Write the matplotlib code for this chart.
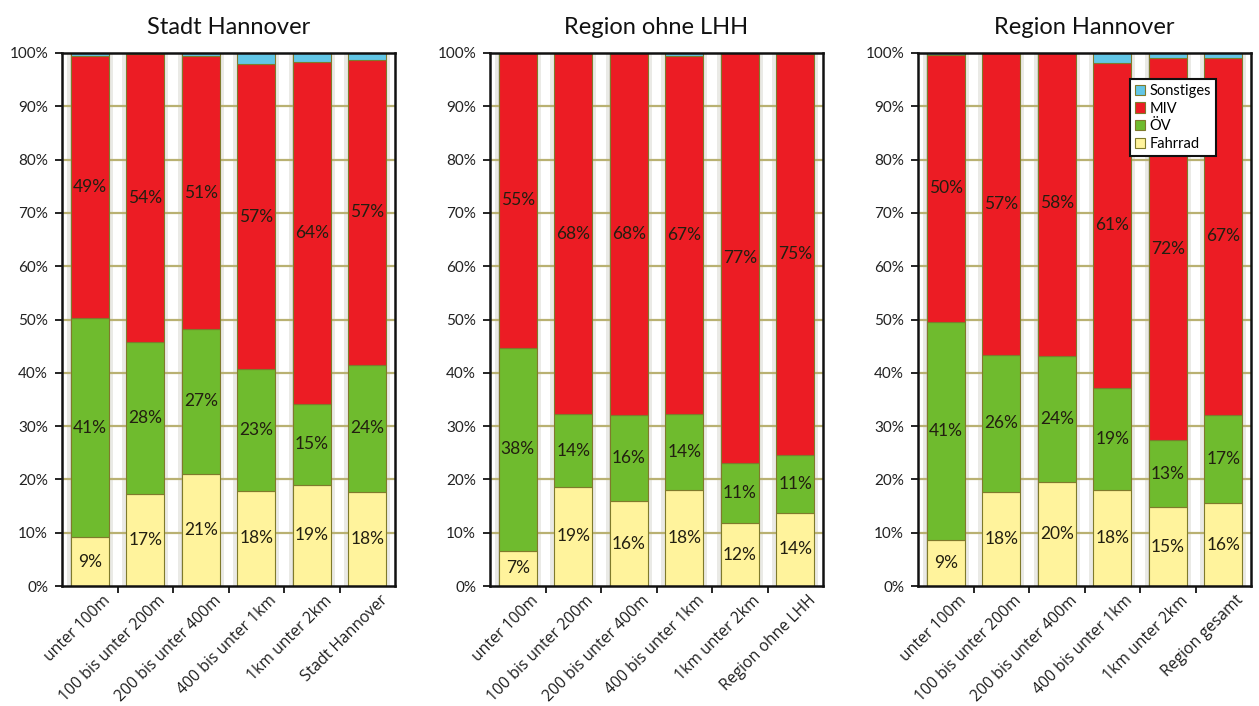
import matplotlib
matplotlib.use("Agg")
import matplotlib.pyplot as plt
import matplotlib.transforms as mtransforms
import numpy as np
from matplotlib.patches import Patch

plt.rcParams["font.family"] = ["Lato", "DejaVu Sans"]

# Anteile in Prozent je Entfernungsklasse
titles = ["Stadt Hannover", "Region ohne LHH", "Region Hannover"]
categories = [
    ["unter 100m", "100 bis unter 200m", "200 bis unter 400m",
     "400 bis unter 1km", "1km unter 2km", "Stadt Hannover"],
    ["unter 100m", "100 bis unter 200m", "200 bis unter 400m",
     "400 bis unter 1km", "1km unter 2km", "Region ohne LHH"],
    ["unter 100m", "100 bis unter 200m", "200 bis unter 400m",
     "400 bis unter 1km", "1km unter 2km", "Region gesamt"],
]
fahrrad = [
    [9.1, 17.3, 21.1, 17.9, 19.0, 17.6],
    [6.6, 18.6, 15.9, 18.1, 11.8, 13.7],
    [8.6, 17.6, 19.6, 18.1, 14.8, 15.5],
]
oev = [
    [41.1, 28.4, 27.1, 22.8, 15.2, 23.9],
    [38.1, 13.6, 16.2, 14.1, 11.3, 10.8],
    [41.0, 25.8, 23.6, 19.1, 12.6, 16.6],
]
miv = [
    [49.3, 54.1, 51.2, 57.2, 64.1, 57.2],
    [55.3, 67.8, 67.9, 67.3, 76.9, 75.4],
    [50.1, 56.6, 57.5, 61.0, 71.6, 67.0],
]
sonstiges = [
    [0.5, 0.2, 0.6, 2.1, 1.7, 1.3],
    [0.0, 0.0, 0.0, 0.5, 0.0, 0.1],
    [0.3, 0.0, 0.0, 1.8, 1.0, 0.9],
]

series_names = ["Fahrrad", "ÖV", "MIV", "Sonstiges"]
colors = ["#fff39c", "#6fbb2e", "#ec1c24", "#62c6e6"]
edge = "#7f7a2c"
label_color = "#221f10"

fig = plt.figure(figsize=(12.59, 7.06), dpi=100)
lefts = [62, 490, 918]
for p in range(3):
    ax = fig.add_axes([lefts[p] / 1259, 1 - 586 / 706, 333 / 1259, 533 / 706])
    n = len(categories[p])
    x = np.arange(n)

    # hintergrund: helle streifen zwischen den saeulen
    ax.set_facecolor("#d6d6d0")
    for g in np.arange(-0.5, n, 1.0):
        ax.axvspan(g - 0.15, g + 0.15, color="#eaeae6", lw=0, zorder=0)
        ax.axvspan(g - 0.09, g + 0.09, color="#ffffff", lw=0, zorder=0)
    for yv in range(10, 100, 10):
        ax.axhline(yv, color="#b9b172", lw=1.6, zorder=1)

    data = [fahrrad[p], oev[p], miv[p], sonstiges[p]]
    bottom = np.zeros(n)
    for k, vals in enumerate(data):
        vals = np.array(vals)
        ax.bar(x, vals, width=0.68, bottom=bottom, color=colors[k],
               edgecolor=edge, linewidth=0.8, zorder=2, label=series_names[k])
        if k < 3:
            for i in range(n):
                ax.text(x[i], bottom[i] + vals[i] / 2, f"{vals[i]:.0f}%",
                        ha="center", va="center", fontsize=12.5,
                        color=label_color, zorder=3)
        bottom = bottom + vals

    ax.set_xlim(-0.5, n - 0.5)
    ax.set_ylim(0, 100)
    ax.set_yticks(range(0, 101, 10))
    ax.set_yticklabels([f"{v}%" for v in range(0, 101, 10)], fontsize=11,
                       color="#222222")
    ax.set_xticks(np.arange(0.5, n - 0.5, 1.0))
    ax.set_xticklabels([])

    # schraege kategorienbeschriftung, leicht nach rechts versetzt
    trans = mtransforms.blended_transform_factory(ax.transData, ax.transAxes)
    for i, cat in enumerate(categories[p]):
        ax.text(x[i] + 0.22, -0.012, cat, transform=trans, rotation=45,
                ha="right", va="top", rotation_mode="anchor", fontsize=11.3,
                family=["Open Sans", "DejaVu Sans"], color="#1e1e1e")

    ax.tick_params(axis="x", which="major", length=5, width=1.2)
    ax.tick_params(axis="y", length=5, width=1.2, pad=5)
    for s in ax.spines.values():
        s.set_linewidth(1.8)
        s.set_color("#111111")
    ax.set_title(titles[p], fontsize=17, pad=14, color="#111111")

    if p == 2:
        handles = [Patch(facecolor=colors[k], edgecolor=edge, linewidth=0.8)
                   for k in range(3, -1, -1)]
        leg = ax.legend(handles, series_names[::-1], loc="upper left",
                        bbox_to_anchor=(0.615, 0.965), fontsize=10.5,
                        handlelength=0.7, handleheight=0.7,
                        handletextpad=0.3, labelspacing=0.25,
                        borderpad=0.35, fancybox=False, framealpha=1)
        leg.get_frame().set_edgecolor("#111111")
        leg.get_frame().set_linewidth(1.5)
        leg.set_zorder(5)

fig.savefig("out.png", dpi=100)
